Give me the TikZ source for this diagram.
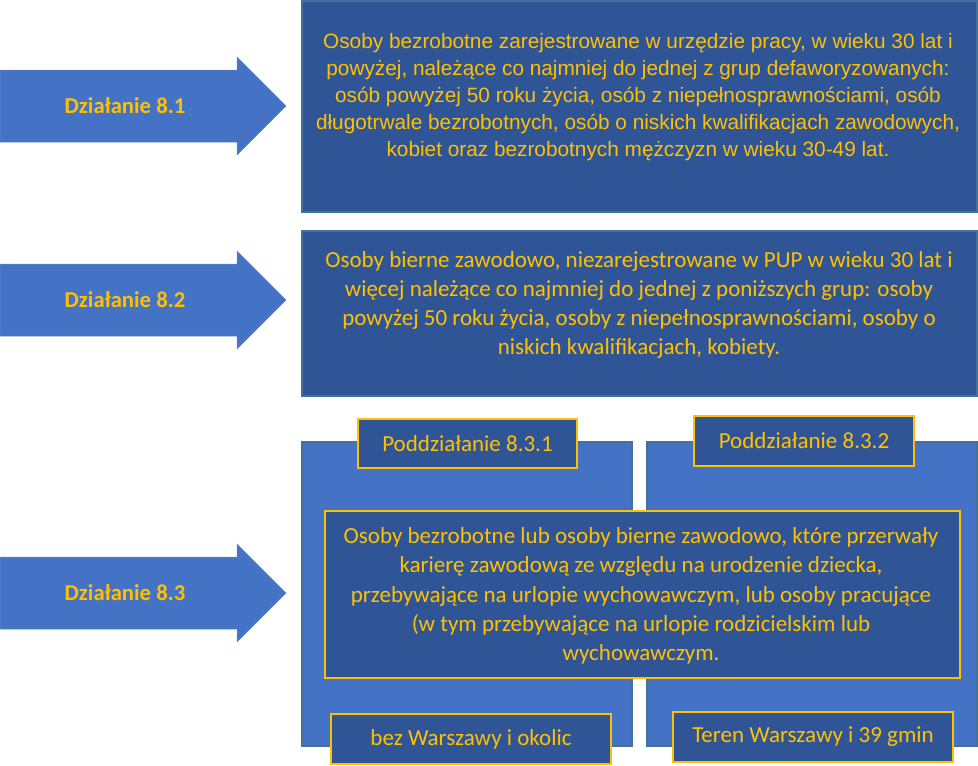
\documentclass[tikz,border=0pt]{standalone}
\usepackage{fontspec}
\setmainfont{Liberation Sans}
\newfontfamily\calibfont{Carlito}
\usetikzlibrary{positioning}
\usetikzlibrary{calc}
\definecolor{darkblue}{HTML}{2F5597}
\definecolor{midblue}{HTML}{4472C4}
\definecolor{edgeblue}{HTML}{41719C}
\definecolor{gold}{HTML}{FFC000}
\tikzset{panel/.style={rectangle, draw=edgeblue, line width=1.5pt, fill=darkblue, inner sep=0pt, anchor=north west}}
\tikzset{area/.style={rectangle, draw=edgeblue, line width=1.5pt, fill=midblue, inner sep=0pt, anchor=north west}}
\tikzset{tag/.style={rectangle, draw=gold, line width=2pt, fill=darkblue, text=gold, align=center, inner sep=0pt, anchor=north west, font=\calibfont\fontsize{23}{27}\selectfont}}
\tikzset{paneltext/.style={text=gold, align=center, inner sep=0pt, font=\calibfont\fontsize{23}{29.3}\selectfont}}
\tikzset{actlabel/.style={text=gold, font=\calibfont\bfseries\fontsize{22.7}{26}\selectfont}}
\tikzset{actarrow/.style={fill=midblue, draw=midblue!85!white, line width=0.5pt}}

\begin{document}
\begin{tikzpicture}[x=1pt, y=-1pt]
    \useasboundingbox (0,0) rectangle (978,766);

    % The arrows on the left, one for each action.
    \foreach \ay/\name/\txt in {106/a1/8.1, 300/a2/8.2, 593/a3/8.3} {
        \draw [actarrow] (0,\ay-36) -- (237,\ay-36) -- (237,\ay-49) -- (286,\ay)
            -- (237,\ay+49) -- (237,\ay+36) -- (0,\ay+36) -- cycle;
        \node [actlabel] (\name) at (125,\ay) {Działanie \txt};
    }

    \node [panel, minimum width=675pt, minimum height=211pt] (p1) at (301,0) {};
    \node [paneltext, font=\fontsize{20.8}{27}\selectfont] (t1) at (638,97)
        {Osoby bezrobotne zarejestrowane w urzędzie pracy, w wieku 30 lat i\\
         powyżej, należące co najmniej do jednej z grup defaworyzowanych:\\
         osób powyżej 50 roku życia, osób z niepełnosprawnościami, osób\\
         długotrwale bezrobotnych, osób o niskich kwalifikacjach zawodowych,\\
         kobiet oraz bezrobotnych mężczyzn w wieku 30-49 lat.};

    \node [panel, minimum width=675pt, minimum height=165pt] (p2) at (301,230) {};
    \node [paneltext] (t2) at (639,305)
        {Osoby bierne zawodowo, niezarejestrowane w PUP w wieku 30 lat i\\
         więcej należące co najmniej do jednej z poniższych grup: osoby\\
         powyżej 50 roku życia, osoby z niepełnosprawnościami, osoby o\\
         niskich kwalifikacjach, kobiety.};

    % The two parts of action 8.3.
    \node [area, minimum width=330pt, minimum height=304pt] (left) at (301,441) {};
    \node [area, minimum width=330pt, minimum height=304pt] (right) at (646,441) {};

    \node [tag, minimum width=219pt, minimum height=49pt] (sub1) at (357,418) {Poddziałanie 8.3.1};
    \node [tag, minimum width=220pt, minimum height=50pt] (sub2) at (693,415) {Poddziałanie 8.3.2};

    \node [panel, draw=gold, line width=2pt, minimum width=635pt, minimum height=167pt] (p3) at (324,510) {};
    \node [paneltext] (t3) at (641,596)
        {Osoby bezrobotne lub osoby bierne zawodowo, które przerwały\\
         karierę zawodową ze względu na urodzenie dziecka,\\
         przebywające na urlopie wychowawczym, lub osoby pracujące\\
         (w tym przebywające na urlopie rodzicielskim lub\\
         wychowawczym.};

    \node [tag, minimum width=280pt, minimum height=50pt] (reg1) at (330,713) {bez Warszawy i okolic};
    \node [tag, minimum width=280pt, minimum height=50pt] (reg2) at (672,711) {Teren Warszawy i 39 gmin};

\end{tikzpicture}
\end{document}
